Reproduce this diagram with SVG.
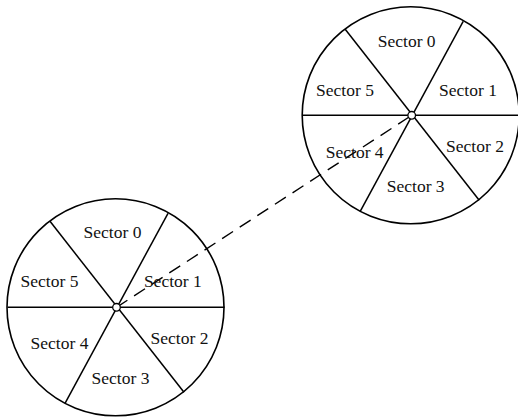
<svg xmlns="http://www.w3.org/2000/svg" width="518" height="420" viewBox="0 0 518 420">
<defs>
<style>
.rim{fill:none;stroke:#000;stroke-width:1.6}
.sp{stroke:#000;stroke-width:1.5;fill:none}
.hub{fill:#fff;stroke:#000;stroke-width:1.3}
.lbl{font-family:"Liberation Serif","Times New Roman",serif;font-size:17.5px;fill:#111;text-anchor:middle}
.dash{stroke:#000;stroke-width:1.4;stroke-dasharray:13 8;fill:none}
</style>
<g id="disk-tpl">
<circle class="rim" cx="-1" cy="0" r="108.5"/>
<line class="sp" x1="-109" y1="0" x2="108" y2="0"/>
<line class="sp" x1="-66.5" y1="-86" x2="67.5" y2="85"/>
<line class="sp" x1="51.5" y1="-94" x2="-51.5" y2="96"/>
</g>
</defs>
<g id="connectors">
<line class="dash" x1="116.5" y1="307.3" x2="411.7" y2="115.3"/>
</g>
<g id="disk1" transform="translate(411.7,115.3)">
<use href="#disk-tpl"/>
<circle class="hub" cx="0" cy="0" r="3.8"/>
<text class="lbl" x="-5" y="-68">Sector 0</text>
<text class="lbl" x="56.3" y="-19.6">Sector 1</text>
<text class="lbl" x="63.3" y="37">Sector 2</text>
<text class="lbl" x="4" y="77">Sector 3</text>
<text class="lbl" x="-57" y="42.4">Sector 4</text>
<text class="lbl" x="-66.7" y="-19.5">Sector 5</text>
</g>
<g id="disk2" transform="translate(116.5,307.3)">
<use href="#disk-tpl"/>
<circle class="hub" cx="0" cy="0" r="3.8"/>
<text class="lbl" x="-4" y="-69">Sector 0</text>
<text class="lbl" x="56.3" y="-20">Sector 1</text>
<text class="lbl" x="63" y="36.7">Sector 2</text>
<text class="lbl" x="4" y="76.8">Sector 3</text>
<text class="lbl" x="-57" y="42">Sector 4</text>
<text class="lbl" x="-67" y="-20">Sector 5</text>
</g>
</svg>
